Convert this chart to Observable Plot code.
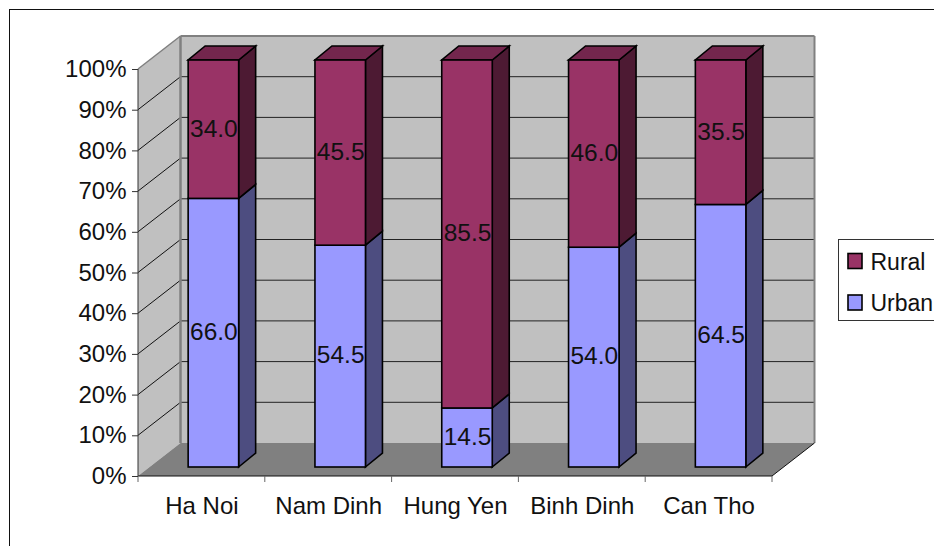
<!DOCTYPE html>
<html>
<head>
<meta charset="utf-8">
<script src="https://cdn.jsdelivr.net/npm/d3@7"></script>
<script src="https://cdn.jsdelivr.net/npm/@observablehq/plot@0.6"></script>
<style>
  html, body { margin: 0; padding: 0; background: #fff; overflow: hidden; }
</style>
</head>
<body>
<div id="chart"></div>
<script>
// Share of respondents by province, split into urban and rural.
const provinces = ["Ha Noi", "Nam Dinh", "Hung Yen", "Binh Dinh", "Can Tho"];
const urban = [66.0, 54.5, 14.5, 54.0, 64.5];
const rural = [34.0, 45.5, 85.5, 46.0, 35.5];
const seriesNames = ["Urban", "Rural"];
const seriesColors = ["#9999FF", "#993366"];
const percentTicks = [0, 10, 20, 30, 40, 50, 60, 70, 80, 90, 100];

const rows = [
  ...provinces.map((province, i) => ({province, series: "Urban", value: urban[i]})),
  ...provinces.map((province, i) => ({province, series: "Rural", value: rural[i]}))
];

const FONT = "'Liberation Sans', Arial, sans-serif";

// Oblique projection: how far the back wall and the bars sit behind the front plane.
const wall = {dx: 42.5, dy: -33};
const barShift = {dx: 12, dy: -9};
const barDepth = {dx: 17, dy: -14};
const barInset = 38.15;

const poly = (g, points, fill, stroke, strokeWidth) =>
  g.append("polygon")
    .attr("points", points.map((p) => p.join(",")).join(" "))
    .attr("fill", fill)
    .attr("stroke", stroke ?? "none")
    .attr("stroke-width", strokeWidth ?? 0)
    .attr("stroke-linejoin", "miter");

const seg = (g, x1, y1, x2, y2, stroke, width) =>
  g.append("line")
    .attr("x1", x1).attr("y1", y1).attr("x2", x2).attr("y2", y2)
    .attr("stroke", stroke).attr("stroke-width", width);

// Outer chart border, open past the right and bottom edges of the page.
function chartBorder(index, scales, values, {width, height}) {
  const g = d3.create("svg:g");
  g.append("rect")
    .attr("x", 9.5).attr("y", 9.5)
    .attr("width", width + 20).attr("height", height + 20)
    .attr("fill", "none").attr("stroke", "#111").attr("stroke-width", 1);
  return g.node();
}

// Side wall, back wall, floor and their gridlines.
function room(index, {x, y}, values, {marginLeft, width, marginRight}) {
  const g = d3.create("svg:g");
  const x0 = marginLeft;
  const x1 = width - marginRight;
  const y0 = y(0);
  const y1 = y(100);
  const {dx, dy} = wall;

  poly(g, [[x0, y0], [x0 + dx, y0 + dy], [x0 + dx, y1 + dy], [x0, y1]], "#C0C0C0");
  poly(g, [[x0 + dx, y0 + dy], [x1 + dx, y0 + dy], [x1 + dx, y1 + dy], [x0 + dx, y1 + dy]], "#C0C0C0");

  for (const t of percentTicks.slice(1, -1)) {
    seg(g, x0, y(t), x0 + dx, y(t) + dy, "#111", 1);
    seg(g, x0 + dx, y(t) + dy, x1 + dx, y(t) + dy, "#222", 1);
  }

  poly(g, [[x0, y0], [x1, y0], [x1 + dx, y0 + dy], [x0 + dx, y0 + dy]], "#808080");

  // Wall edges
  seg(g, x0 + dx, y0 + dy, x0 + dx, y1 + dy, "#808080", 2.5);
  seg(g, x0 + dx, y1 + dy, x1 + dx, y1 + dy, "#808080", 2);
  seg(g, x1 + dx, y1 + dy, x1 + dx, y0 + dy, "#808080", 2);
  seg(g, x0, y1, x0 + dx, y1 + dy, "#808080", 1.5);

  // Front edges of the floor and the axis lines
  seg(g, x1, y0, x1 + dx, y0 + dy, "#111", 1);
  seg(g, x0, y0, x1, y0, "#111", 1);
  seg(g, x0, y0, x0, y1, "#333", 1);

  // Category ticks on the band boundaries
  for (const p of provinces) seg(g, x(p), y0, x(p), y0 + 6, "#666", 1);
  seg(g, x1, y0, x1, y0 + 6, "#666", 1);
  return g.node();
}

// Darkened side and top faces of each stacked column.
function columnFaces(index, {x, y}) {
  const g = d3.create("svg:g");
  const {dx, dy} = barDepth;
  provinces.forEach((p, i) => {
    const left = x(p) + barInset + barShift.dx;
    const right = x(p) + x.bandwidth() - barInset + barShift.dx;
    const base = y(0) + barShift.dy;
    const mid = y(urban[i]) + barShift.dy;
    const top = y(urban[i] + rural[i]) + barShift.dy;
    poly(g, [[right, base], [right + dx, base + dy], [right + dx, mid + dy], [right, mid]],
      "#4D4D80", "#000", 1.6);
    poly(g, [[right, mid], [right + dx, mid + dy], [right + dx, top + dy], [right, top]],
      "#4D1A33", "#000", 1.6);
    poly(g, [[left, top], [right, top], [right + dx, top + dy], [left + dx, top + dy]],
      "#73264D", "#000", 1.6);
  });
  return g.node();
}

// Legend box on the right, cut off by the page edge as the box runs past it.
function legendBox(index, {color}, values, {width}) {
  const g = d3.create("svg:g");
  g.append("rect")
    .attr("x", 838.5).attr("y", 239.5)
    .attr("width", width).attr("height", 81)
    .attr("fill", "#fff").attr("stroke", "#333").attr("stroke-width", 1);
  [["Rural", 261], ["Urban", 302.5]].forEach(([name, cy]) => {
    g.append("rect")
      .attr("x", 848).attr("y", cy - 7.5).attr("width", 14).attr("height", 15)
      .attr("fill", color(name)).attr("stroke", "#000").attr("stroke-width", 1.6);
    g.append("text")
      .attr("x", 870.5).attr("y", cy + 8.5)
      .attr("text-anchor", "start")
      .attr("font-size", 23).attr("fill", "#111")
      .text(name);
  });
  return g.node();
}

const chart = Plot.plot({
  width: 934,
  height: 546,
  marginLeft: 138,
  marginRight: 162,
  marginTop: 69,
  marginBottom: 70,
  style: {fontFamily: FONT, background: "#fff", color: "#111"},
  x: {domain: provinces, padding: 0, round: false, label: null},
  y: {domain: [0, 100], label: null},
  color: {domain: seriesNames, range: seriesColors},
  marks: [
    chartBorder,
    room,
    columnFaces,
    Plot.barY(rows, Plot.stackY({
      x: "province",
      y: "value",
      z: "series",
      order: null,
      fill: "series",
      stroke: "#000",
      strokeWidth: 1.6,
      insetLeft: barInset,
      insetRight: barInset,
      dx: barShift.dx,
      dy: barShift.dy
    })),
    Plot.text(rows, Plot.stackY({
      x: "province",
      y: "value",
      z: "series",
      order: null,
      text: (d) => d.value.toFixed(1),
      fontSize: 24.5,
      fill: "#111",
      dx: barShift.dx,
      dy: barShift.dy - 1
    })),
    Plot.axisY({
      ticks: percentTicks,
      tickFormat: (d) => `${d}%`,
      tickSize: 6,
      tickPadding: 6,
      fontSize: 24,
      stroke: "#333",
      label: null
    }),
    Plot.axisX({
      tickSize: 0,
      tickPadding: 20,
      fontSize: 24,
      label: null
    }),
    legendBox
  ]
});

document.getElementById("chart").appendChild(chart);
</script>
</body>
</html>
